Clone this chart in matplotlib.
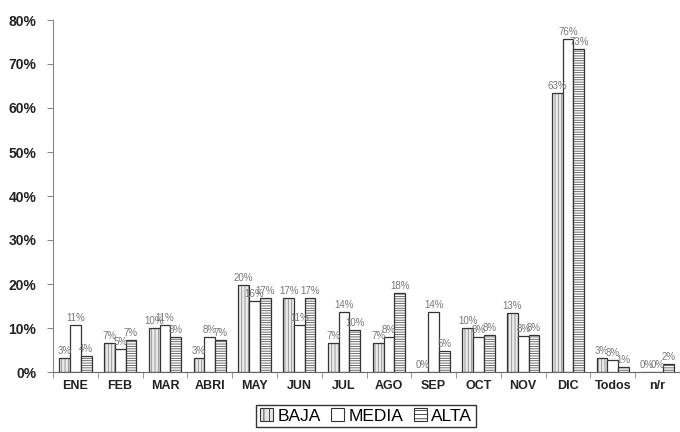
import matplotlib
matplotlib.use("Agg")
import matplotlib.pyplot as plt
from matplotlib.patches import Patch
import numpy as np

plt.rcParams['font.family'] = ['Liberation Sans', 'DejaVu Sans']
plt.rcParams['hatch.linewidth'] = 0.6

months = ["ENE", "FEB", "MAR", "ABRI", "MAY", "JUN", "JUL", "AGO", "SEP",
          "OCT", "NOV", "DIC", "Todos", "n/r"]
baja = [0.032, 0.066, 0.100, 0.032, 0.197, 0.168, 0.066, 0.066, 0.000,
        0.100, 0.134, 0.633, 0.032, 0.000]
media = [0.107, 0.052, 0.107, 0.079, 0.162, 0.107, 0.136, 0.080, 0.136,
         0.080, 0.082, 0.757, 0.027, 0.000]
alta = [0.036, 0.073, 0.079, 0.073, 0.168, 0.168, 0.095, 0.180, 0.048,
        0.084, 0.084, 0.734, 0.011, 0.018]
series_names = ["BAJA", "MEDIA", "ALTA"]

fig = plt.figure(figsize=(6.8, 4.32), dpi=100)
ax = fig.add_axes([53 / 680, 60 / 432, 627 / 680, 352 / 432])

x = np.arange(len(months))
w = 0.24
styles = [
    dict(facecolor="#ebebeb", hatch="|||||", hcolor="#8a8a8a"),
    dict(facecolor="white", hatch=None, hcolor=None),
    dict(facecolor="white", hatch="-------", hcolor="#555555"),
]

for i, (vals, st) in enumerate(zip([baja, media, alta], styles)):
    pos = x + (i - 1) * w
    if st["hatch"]:
        ax.bar(pos, vals, width=w, facecolor=st["facecolor"],
               edgecolor=st["hcolor"], hatch=st["hatch"], linewidth=0)
    else:
        ax.bar(pos, vals, width=w, facecolor=st["facecolor"], linewidth=0)
    ax.bar(pos, vals, width=w, facecolor="none", edgecolor="#333333",
           linewidth=0.9)
    for px, v in zip(pos, vals):
        ax.annotate(f"{v:.0%}", (px, v), xytext=(0, 1.5),
                    textcoords="offset points", ha="center", va="bottom",
                    fontsize=7, color="#777777")

ax.set_ylim(0, 0.8)
ax.set_xlim(-0.45, len(months) - 0.5 - 0.02)
ax.set_yticks(np.arange(0, 0.81, 0.1))
ax.set_yticklabels([f"{int(round(t * 100))}%" for t in np.arange(0, 0.81, 0.1)],
                   fontsize=10, fontweight="bold", color="#222222")
ax.set_xticks(x)
ax.set_xticklabels(months, fontsize=9, fontweight="bold", color="#222222")
ax.set_xticks(np.arange(-0.5, len(months), 1), minor=True)
ax.tick_params(axis="x", which="major", length=0, pad=6)
ax.tick_params(axis="x", which="minor", length=4, direction="out",
               color="#888888")
ax.tick_params(axis="y", length=4, direction="out", color="#888888", pad=8)

for s in ["top", "right"]:
    ax.spines[s].set_visible(False)
ax.spines["left"].set_color("#888888")
ax.spines["bottom"].set_color("#666666")

handles = [
    Patch(facecolor="#e6e6e6", edgecolor="#333333", hatch="|||", linewidth=0.8),
    Patch(facecolor="white", edgecolor="#333333", linewidth=0.8),
    Patch(facecolor="white", edgecolor="#333333", hatch="----", linewidth=0.8),
]
leg = fig.legend(handles, series_names, loc="center",
                 bbox_to_anchor=(366 / 680, 16 / 432), ncol=3, fontsize=12.5,
                 frameon=True, fancybox=False, edgecolor="black",
                 handlelength=0.75, handleheight=0.75, handletextpad=0.25,
                 columnspacing=0.6, borderpad=0.2, borderaxespad=0)
leg.get_frame().set_linewidth(1.0)

fig.savefig("out.png", dpi=100)
